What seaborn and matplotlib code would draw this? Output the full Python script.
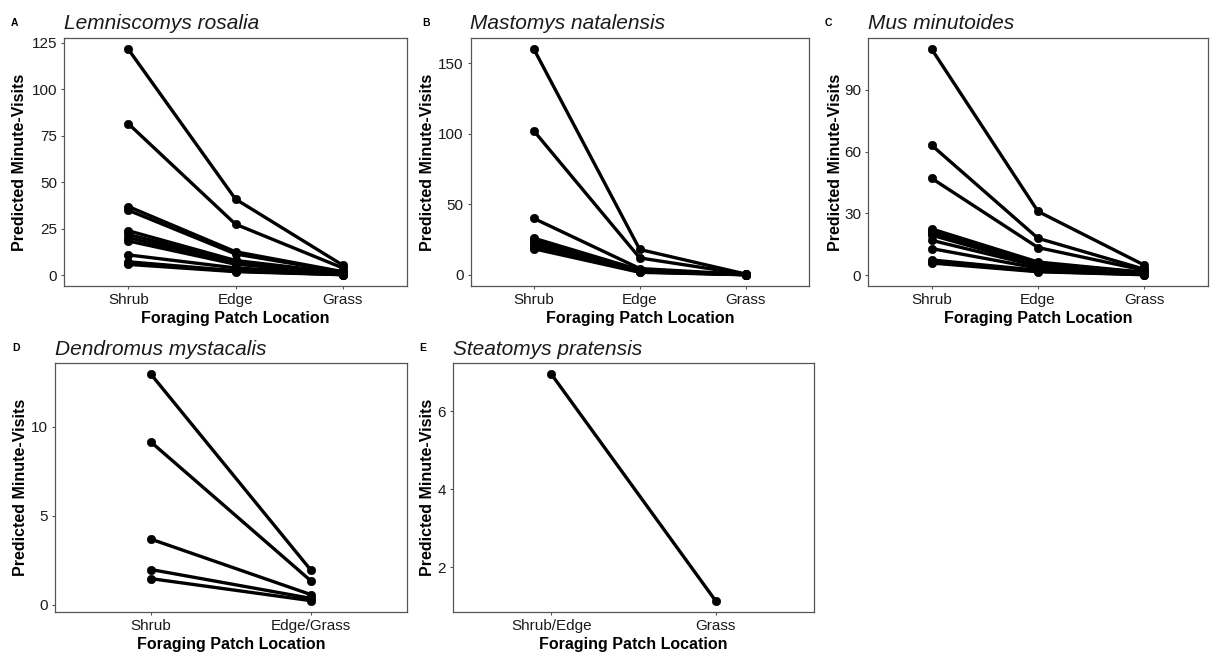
import numpy as np
import pandas as pd
import matplotlib
matplotlib.use("Agg")
import matplotlib.pyplot as plt
import seaborn as sns

# ---------------- data ----------------
loc3 = ["Shrub", "Edge", "Grass"]

A_title = "Lemniscomys rosalia"
A_shrub = [121.5, 81.5, 37.0, 35.0, 24.0, 22.0, 20.3, 18.5, 11.0, 7.3, 6.5, 5.9]
A_edge  = [41.0, 27.5, 12.7, 11.5, 8.0, 7.5, 6.5, 6.0, 4.0, 2.5, 2.3, 2.0]
A_grass = [5.5, 4.0, 2.0, 1.8, 1.3, 1.2, 1.1, 1.0, 0.7, 0.45, 0.4, 0.35]

B_title = "Mastomys natalensis"
B_shrub = [160.0, 102.0, 40.0, 26.0, 24.5, 23.0, 21.5, 20.0, 18.5]
B_edge  = [18.0, 12.0, 4.5, 3.5, 3.0, 2.7, 2.4, 2.1, 1.8]
B_grass = [0.6, 0.5, 0.3, 0.2, 0.2, 0.15, 0.15, 0.1, 0.1]

C_title = "Mus minutoides"
C_shrub = [109.5, 63.0, 47.0, 22.5, 21.5, 20.5, 19.5, 17.0, 13.0, 7.5, 6.5, 6.0]
C_edge  = [31.0, 18.0, 13.5, 6.5, 6.0, 5.5, 5.0, 4.5, 3.5, 2.5, 2.0, 1.8]
C_grass = [5.0, 3.0, 2.5, 1.5, 1.4, 1.3, 1.2, 1.1, 0.8, 0.5, 0.4, 0.35]

D_title = "Dendromus mystacalis"
D_locs = ["Shrub", "Edge/Grass"]
D_shrub = [12.95, 9.14, 3.68, 1.97, 1.46]
D_edgegrass = [1.93, 1.33, 0.56, 0.35, 0.22]

E_title = "Steatomys pratensis"
E_locs = ["Shrub/Edge", "Grass"]
E_shrubedge = [6.94]
E_grass = [1.15]

A_ticks = [0, 25, 50, 75, 100, 125]
B_ticks = [0, 50, 100, 150]
C_ticks = [0, 30, 60, 90]
D_ticks = [0, 5, 10]
E_ticks = [2, 4, 6]


def make_df(locs, series):
    rows = []
    for i in range(len(series[0])):
        for loc, s in zip(locs, series):
            rows.append({"id": i, "loc": loc, "val": s[i]})
    df = pd.DataFrame(rows)
    df["loc"] = pd.Categorical(df["loc"], categories=locs, ordered=True)
    return df


panels = [
    ("A", A_title, make_df(loc3, [A_shrub, A_edge, A_grass]), A_ticks, (64, 38, 407, 286), 44),
    ("B", B_title, make_df(loc3, [B_shrub, B_edge, B_grass]), B_ticks, (470.5, 38, 809, 286), 43),
    ("C", C_title, make_df(loc3, [C_shrub, C_edge, C_grass]), C_ticks, (868, 38, 1208, 286), 33),
    ("D", D_title, make_df(D_locs, [D_shrub, D_edgegrass]), D_ticks, (55, 363, 407, 612), 34),
    ("E", E_title, make_df(E_locs, [E_shrubedge, E_grass]), E_ticks, (453, 363, 814, 612), 25),
]
letter_x = {"A": 11, "B": 422, "C": 825, "D": 12, "E": 419}

sns.set_theme(style="white")
plt.rcParams["font.family"] = ["Liberation Sans", "DejaVu Sans"]

W, H = 1211, 652
fig = plt.figure(figsize=(W / 100, H / 100), dpi=100)
frame_col = "#555555"

for letter, title, df, ticks, (x0, y0, x1, y1), ylab_off in panels:
    ax = fig.add_axes([x0 / W, 1 - y1 / H, (x1 - x0) / W, (y1 - y0) / H])
    sns.lineplot(data=df, x="loc", y="val", units="id", estimator=None,
                 color="black", linewidth=2.4, marker="o", markersize=6,
                 markeredgecolor="black", markeredgewidth=0.5,
                 legend=False, ax=ax, sort=False)
    ncat = len(df["loc"].cat.categories)
    ax.set_xlim(-0.6, ncat - 1 + 0.6)
    vmin, vmax = df["val"].min(), df["val"].max()
    pad = 0.05 * (vmax - vmin)
    ax.set_ylim(vmin - pad, vmax + pad)
    ax.set_yticks(ticks)
    ax.set_xticks(range(ncat))
    ax.set_xticklabels(list(df["loc"].cat.categories))
    for sp in ax.spines.values():
        sp.set_visible(True)
        sp.set_color(frame_col)
        sp.set_linewidth(0.9)
    ax.tick_params(axis="both", which="major", length=2.5, width=0.8,
                   color=frame_col, labelsize=11, labelcolor="#1a1a1a",
                   pad=2.5, bottom=True, left=True)
    ax.grid(False)
    ax.set_facecolor("white")
    ax.set_xlabel("Foraging Patch Location", fontsize=11.5, fontweight="bold", color="black")
    ax.set_ylabel("Predicted Minute-Visits", fontsize=11.5, fontweight="bold", color="black")
    hpx = y1 - y0
    wpx = x1 - x0
    ax.xaxis.set_label_coords(0.5, -33 / hpx)
    ax.xaxis.label.set_va("center")
    ax.yaxis.set_label_coords(-ylab_off / wpx, 0.5)
    ax.yaxis.label.set_va("center")
    # title and panel letter
    base_t = y0 - 9 if letter in "ABC" else y0 - 8
    base_l = y0 - 12
    fig.text(x0 / W, 1 - base_t / H, title, fontsize=15, fontstyle="italic",
             color="#1a1a1a", ha="left", va="baseline")
    fig.text(letter_x[letter] / W, 1 - base_l / H, letter, fontsize=7.5,
             fontweight="bold", color="black", ha="left", va="baseline")

fig.savefig("out.png", dpi=100, facecolor="white")
